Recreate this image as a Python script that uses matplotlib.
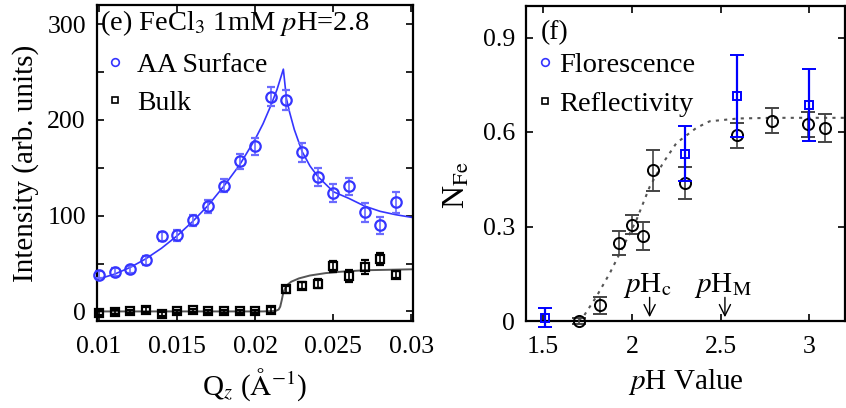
import matplotlib
matplotlib.use("Agg")
import matplotlib.pyplot as plt
from matplotlib.lines import Line2D
from matplotlib.ticker import MultipleLocator

plt.rcParams['font.family'] = ['Liberation Serif', 'DejaVu Serif']
plt.rcParams['mathtext.fontset'] = 'stix'
plt.rcParams['font.size'] = 20

# ---- panel (e) data ----
qz = [0.010, 0.011, 0.012, 0.013, 0.014, 0.015, 0.016, 0.017, 0.018, 0.019,
      0.020, 0.021, 0.022, 0.023, 0.024, 0.025, 0.026, 0.027, 0.028, 0.029]
surf_I = [38.5, 41.4, 43.8, 53.4, 78.4, 79.5, 95.1, 109.7, 131.3, 156.6,
          172.6, 224.3, 220.8, 166.4, 140.3, 123.6, 130.5, 103.4, 89.9, 113.9]
surf_err = [4, 4, 4, 5, 5, 6, 6, 7, 7, 8, 9, 10, 10, 10, 9, 9, 9, 10, 9, 11]
bulk_I = [-2, -0.7, 0, 2, -2.4, 0, 1, 0, 0, 0,
          0, 1.8, 23, 27, 29, 47, 37, 46.5, 55, 38.5]
bulk_err = [2, 2, 2, 3, 2, 2, 2, 2, 2, 2, 2, 3, 4, 4, 5, 6, 6, 7, 6, 4]

# fit curves
surf_fit_q = [0.00987, 0.010, 0.011, 0.012, 0.013, 0.014, 0.015, 0.016, 0.017,
              0.018, 0.019, 0.020, 0.0205, 0.021, 0.0214, 0.0218, 0.0220,
              0.0222, 0.0225, 0.0230, 0.0235, 0.0240, 0.0250, 0.0260, 0.0270,
              0.0280, 0.0290, 0.0301]
surf_fit_I = [33, 34, 39, 46, 55, 66, 79, 94, 111,
              131, 153, 180, 196, 215, 232, 253, 222,
              208, 190, 167, 152, 141, 125, 118, 110,
              104.5, 101, 98]
bulk_fit_q = [0.00987, 0.0205, 0.0213, 0.0215, 0.0216, 0.0217, 0.0218, 0.0220,
              0.0223, 0.0228, 0.0235, 0.0245, 0.0255, 0.0270, 0.0301]
bulk_fit_I = [0, 0, 0.5, 2, 5, 12, 20, 27, 31, 34.5, 37.5, 40, 41.5, 43, 44]

# ---- panel (f) data ----
refl_pH = [1.70, 1.82, 1.93, 2.00, 2.06, 2.12, 2.30, 2.59, 2.79, 2.99, 3.09]
refl_N = [0.0, 0.05, 0.249, 0.305, 0.27, 0.478, 0.438, 0.589, 0.636, 0.624, 0.613]
refl_err = [0.01, 0.027, 0.038, 0.03, 0.045, 0.064, 0.05, 0.04, 0.04, 0.04, 0.045]
fluo_pH = [1.51, 2.30, 2.59, 3.00]
fluo_N = [0.01, 0.531, 0.715, 0.685]
fluo_err = [0.03, 0.088, 0.13, 0.115]
fit_pH = [1.70, 1.727, 1.80, 1.876, 1.951, 2.026, 2.101, 2.176, 2.251, 2.363,
          2.438, 2.60, 2.80, 3.20]
fit_N = [0.0, 0.014, 0.077, 0.152, 0.236, 0.321, 0.427, 0.502, 0.565, 0.613,
         0.634, 0.643, 0.645, 0.645]

blue = '#3535ff'

fig = plt.figure(figsize=(8.46, 4.08), dpi=100)
ax1 = fig.add_axes([97 / 846, 87 / 408, 316 / 846, 316 / 408])
ax2 = fig.add_axes([526 / 846, 87 / 408, 319 / 846, 315 / 408])

# (e)
ax1.plot(surf_fit_q, surf_fit_I, color=blue, lw=1.2, zorder=2)
ax1.plot(bulk_fit_q, bulk_fit_I, color='#555555', lw=1.4, zorder=2)
ax1.errorbar(qz, surf_I, yerr=surf_err, fmt='o', ms=7.5, mfc='none', mec=blue,
             mew=1.6, ecolor='#6b6bff', elinewidth=1.2, capsize=3, capthick=1.2,
             clip_on=False, zorder=3)
ax1.errorbar(qz, bulk_I, yerr=bulk_err, fmt='s', ms=5.5, mfc='none', mec='black',
             mew=1.6, ecolor='black', elinewidth=1.2, capsize=3, capthick=1.2,
             clip_on=False, zorder=3)
ax1.set_xlim(0.00987, 0.0301)
ax1.set_ylim(-10, 320)
ax1.set_xticks([0.01, 0.015, 0.02, 0.025, 0.03])
ax1.set_xticklabels(['0.01', '0.015', '0.02', '0.025', '0.03'])
ax1.set_yticks([0, 100, 200, 300])
ax1.yaxis.set_minor_locator(MultipleLocator(50))
ax1.set_xlabel(r'Q$_z$ ($\mathrm{\AA}^{-1}$)', fontsize=21, labelpad=6)
ax1.set_ylabel('Intensity (arb. units)', fontsize=21, labelpad=6)
ax1.text(0.01, 0.99, r'(e) FeCl$_3$ 1mM $p$H=2.8', transform=ax1.transAxes,
         va='top', ha='left', fontsize=20.5)
h1 = [Line2D([], [], ls='none', marker='o', ms=5.5, mfc='none', mec=blue, mew=1.2),
      Line2D([], [], ls='none', marker='s', ms=4.5, mfc='none', mec='black', mew=1.2)]
ax1.legend(h1, ['AA Surface', 'Bulk'], loc='upper left',
           bbox_to_anchor=(-0.01, 0.885), frameon=False, handlelength=0.7,
           handletextpad=0.45, labelspacing=0.45, borderaxespad=0.0,
           fontsize=20)

# (f)
ax2.plot(fit_pH, fit_N, ls=(0, (1.5, 2.5)), color='#555555', lw=1.5, zorder=2)
ax2.errorbar(refl_pH, refl_N, yerr=refl_err, fmt='o', ms=8, mfc='none',
             mec='black', mew=1.4, ecolor='#444444', elinewidth=1.2, capsize=5,
             capthick=1.2, clip_on=False, zorder=3)
ax2.errorbar(fluo_pH, fluo_N, yerr=fluo_err, fmt='s', ms=6, mfc='none',
             mec='#0000ff', mew=1.4, ecolor='#0000ff', elinewidth=1.6, capsize=5,
             capthick=1.6, clip_on=False, zorder=4)
ax2.set_xlim(1.404, 3.2)
ax2.set_ylim(0, 1.0)
ax2.set_xticks([1.5, 2, 2.5, 3])
ax2.set_xticklabels(['1.5', '2', '2.5', '3'])
ax2.set_yticks([0, 0.3, 0.6, 0.9])
ax2.set_yticklabels(['0', '0.3', '0.6', '0.9'])
ax2.set_xlabel(r'$p$H Value', fontsize=21, labelpad=6)
ax2.set_ylabel(r'N$_{\mathrm{Fe}}$', fontsize=23)
ax2.yaxis.set_label_coords(-0.17, 0.43)
ax2.text(0.045, 0.955, '(f)', transform=ax2.transAxes, va='top', ha='left')
h2 = [Line2D([], [], ls='none', marker='o', ms=5.5, mfc='none', mec=blue, mew=1.2),
      Line2D([], [], ls='none', marker='s', ms=4.5, mfc='none', mec='black', mew=1.2)]
ax2.legend(h2, ['Florescence', 'Reflectivity'], loc='upper left',
           bbox_to_anchor=(0.0, 0.89), frameon=False, handlelength=0.5,
           handletextpad=0.25, labelspacing=0.45, borderaxespad=0.0,
           fontsize=20.5)
for xa, lab in [(2.10, r'$p$H$_\mathrm{c}$'), (2.524, r'$p$H$_\mathrm{M}$')]:
    ax2.annotate('', xy=(xa, 0.012), xytext=(xa, 0.075),
                 arrowprops=dict(arrowstyle='->', lw=1.0, color='black',
                                 shrinkA=0, shrinkB=0))
    ax2.text(xa - 0.01, 0.092, lab, ha='center', va='baseline', fontsize=21)

for ax in (ax1, ax2):
    ax.tick_params(which='both', direction='in', top=True, right=True,
                   width=1.2, pad=8, labelsize=18.5)
    ax.tick_params(axis='x', which='both', pad=11)
    ax.tick_params(which='major', length=5)
    ax.tick_params(which='minor', length=5)
    for s in ax.spines.values():
        s.set_linewidth(1.6)

fig.savefig('out.png', dpi=100)
